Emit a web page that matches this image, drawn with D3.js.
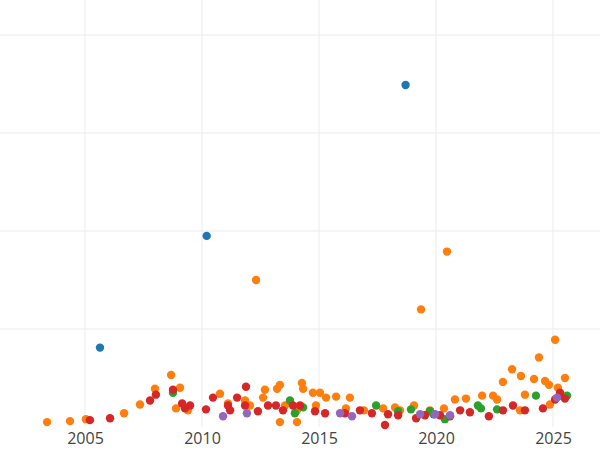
<!DOCTYPE html>
<html lang="en">
<head>
<meta charset="UTF-8">
<style>
  body { margin: 0; background: #fff; }
  .axis .domain, .axis line { display: none; }
  .axis text { font-family: "Open Sans", sans-serif; font-size: 16px; fill: #444; }
</style>
</head>
<body>
<svg width="600" height="450"></svg>
<script src="https://d3js.org/d3.v7.min.js"></script>
<script>
// [year, value] pairs per series
var blue = [[2005.64,0.81],[2010.2,1.95],[2018.7,3.49],[2019.9,0.13]];
var orange = [[2003.38,0.05],[2004.36,0.06],[2005.04,0.08],[2006.67,0.14],[2007.35,0.23],[2007.99,0.39],
  [2008.68,0.53],[2009.06,0.40],[2008.89,0.19],[2009.40,0.17],[2010.77,0.34],[2011.11,0.24],[2011.84,0.27],
  [2012.05,0.22],[2012.69,0.38],[2012.61,0.30],[2013.21,0.39],[2013.33,0.43],[2013.33,0.05],[2013.55,0.22],
  [2014.06,0.17],[2014.27,0.45],[2014.32,0.39],[2014.74,0.35],[2015.04,0.35],[2014.87,0.22],[2015.30,0.30],
  [2015.73,0.31],[2016.32,0.30],[2016.15,0.19],[2016.92,0.17],[2017.74,0.19],[2018.25,0.20],[2018.46,0.17],
  [2019.06,0.22],[2019.36,1.20],[2019.74,0.17],[2020.47,1.79],[2020.34,0.19],[2020.81,0.28],[2021.28,0.29],
  [2021.97,0.32],[2022.44,0.32],[2022.61,0.28],[2022.86,0.46],[2023.25,0.59],[2023.63,0.52],[2024.19,0.49],
  [2024.40,0.71],[2024.66,0.47],[2024.83,0.43],[2025.09,0.89],[2025.21,0.40],[2025.51,0.50],[2024.87,0.23],
  [2023.59,0.17],[2023.80,0.33],[2012.31,1.50],[2014.06,0.05]];
var green = [[2008.76,0.35],[2013.76,0.27],[2013.97,0.14],[2014.32,0.20],[2017.44,0.22],[2018.38,0.16],
  [2018.93,0.18],[2019.74,0.16],[2020.38,0.08],[2021.79,0.22],[2021.92,0.19],[2022.61,0.18],[2024.27,0.32],
  [2025.30,0.32],[2025.60,0.32]];
var red = [[2005.21,0.07],[2006.07,0.09],[2007.78,0.27],[2008.03,0.33],[2008.76,0.38],[2009.15,0.24],
  [2009.27,0.19],[2009.49,0.22],[2010.17,0.18],[2010.47,0.30],[2011.11,0.22],[2011.20,0.17],[2011.50,0.30],
  [2011.88,0.41],[2011.84,0.22],[2012.39,0.16],[2012.82,0.22],[2013.16,0.22],[2013.46,0.17],[2013.89,0.22],
  [2014.19,0.22],[2014.83,0.16],[2015.26,0.14],[2016.11,0.14],[2016.75,0.17],[2017.26,0.14],[2017.82,0.02],
  [2017.95,0.13],[2018.38,0.12],[2019.15,0.09],[2019.53,0.12],[2020.17,0.12],[2020.60,0.11],[2021.03,0.17],
  [2021.45,0.15],[2022.26,0.11],[2022.86,0.17],[2023.29,0.22],[2023.80,0.17],[2024.57,0.19],[2025.09,0.28],
  [2025.51,0.29],[2025.30,0.35]];
var purple = [[2010.90,0.11],[2011.92,0.14],[2015.90,0.14],[2016.41,0.11],[2019.32,0.13],[2019.96,0.13],
  [2020.60,0.12],[2025.17,0.30]];
var xTicks = [2005, 2010, 2015, 2020, 2025];
var yGrid = [1, 2, 3, 4];

var series = [
  {data: blue, color: "#1f77b4"},
  {data: orange, color: "#ff7f0e"},
  {data: green, color: "#2ca02c"},
  {data: red, color: "#d62728"},
  {data: purple, color: "#9467bd"}
];

var svg = d3.select("svg");
var x = d3.scaleLinear().domain([2005, 2025]).range([85, 553]);
var y = d3.scaleLinear().domain([0, 4]).range([427, 35]);

svg.append("g").selectAll("line").data(xTicks).enter().append("line")
  .attr("x1", x).attr("x2", x).attr("y1", 0).attr("y2", 427)
  .attr("stroke", "#ebebeb").attr("stroke-width", 1);
svg.append("g").selectAll("line").data(yGrid).enter().append("line")
  .attr("x1", 0).attr("x2", 600).attr("y1", y).attr("y2", y)
  .attr("stroke", "#ebebeb").attr("stroke-width", 1);

svg.append("g")
  .attr("class", "axis")
  .attr("transform", "translate(0,427)")
  .call(d3.axisBottom(x).tickValues(xTicks).tickFormat(d3.format("d")).tickSize(0).tickPadding(6));

series.forEach(function(s) {
  svg.append("g").selectAll("circle").data(s.data).enter().append("circle")
    .attr("cx", function(d) { return x(d[0]); })
    .attr("cy", function(d) { return y(d[1]); })
    .attr("r", 4.2)
    .attr("fill", s.color);
});
</script>
</body>
</html>
